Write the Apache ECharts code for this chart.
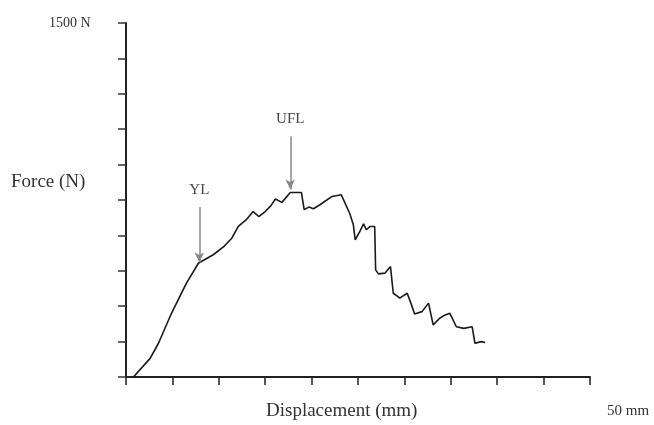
<!DOCTYPE html>
<html>
<head>
<meta charset="utf-8">
<script src="https://cdn.jsdelivr.net/npm/echarts@6/dist/echarts.min.js"></script>
<style>
  html, body { margin: 0; padding: 0; background: #fff; }
  #chart { width: 654px; height: 425px; }
</style>
</head>
<body>
<div id="chart"></div>
<script>
// displacement (mm) and force (N)
var displacement = [0.8, 2.6, 3.5, 4.9, 6.5, 7.8, 9.4, 10.6, 11.4, 12.1, 13.0, 13.7, 14.3, 15.0, 15.6, 16.1, 16.8,
  17.7, 18.9, 19.2, 19.7, 20.2, 20.9, 22.2, 23.2, 24.1, 24.5, 24.7, 25.2, 25.6, 25.9, 26.3, 26.8,
  26.9, 27.2, 27.9, 28.5, 28.8, 29.2, 29.5, 30.3, 30.7, 31.1, 31.9, 32.6, 33.1, 33.8, 34.4,
  34.9, 35.6, 36.4, 37.3, 37.6, 38.3, 38.7];
var force = [0, 79, 143, 270, 397, 482, 518, 555, 588, 638, 668, 701, 680, 701, 725, 754, 740,
  782, 782, 709, 720, 713, 730, 765, 772, 694, 645, 581, 617, 649, 624, 638, 638,
  454, 437, 440, 468, 355, 344, 334, 355, 313, 267, 277, 313, 221, 249, 263,
  270, 213, 206, 213, 143, 150, 146];

// annotation arrows: label, x (mm), top and tip force (N)
var arrowNames = ['YL', 'UFL'];
var arrowX = [7.9, 17.7];
var arrowTop = [720, 1020];
var arrowTip = [485, 795];

var chart = echarts.init(document.getElementById('chart'));
var serif = 'Liberation Serif';

var points = displacement.map(function (d, i) { return [d, force[i]]; });

var markLines = [];
var markLabels = [];
arrowNames.forEach(function (name, i) {
  markLines.push([
    { coord: [arrowX[i], arrowTop[i]], symbol: 'none' },
    { coord: [arrowX[i], arrowTip[i]], symbol: 'arrow' }
  ]);
  markLabels.push({ name: name, coord: [arrowX[i], arrowTop[i]] });
});

var option = {
  animation: false,
  grid: { left: 126, right: 64, top: 23, bottom: 48 },
  xAxis: {
    type: 'value', min: 0, max: 50, interval: 5,
    axisLine: { lineStyle: { color: '#222', width: 2 } },
    axisTick: { inside: false, length: 8, lineStyle: { color: '#222', width: 1.5 } },
    axisLabel: { show: false },
    splitLine: { show: false }
  },
  yAxis: {
    type: 'value', min: 0, max: 1500, interval: 150,
    axisLine: { show: true, lineStyle: { color: '#222', width: 2 } },
    axisTick: { show: true, inside: false, length: 8, lineStyle: { color: '#333', width: 1.5 } },
    axisLabel: { show: false },
    splitLine: { show: false }
  },
  series: [{
    type: 'line',
    data: points,
    showSymbol: false,
    lineStyle: { color: '#1a1a1a', width: 1.6 },
    markLine: {
      silent: true,
      symbolSize: [7, 10],
      label: { show: false },
      lineStyle: { color: '#888', width: 1.5, type: 'solid' },
      data: markLines
    },
    markPoint: {
      silent: true,
      symbol: 'circle',
      symbolSize: 1,
      itemStyle: { color: 'rgba(0,0,0,0)' },
      label: {
        show: true, position: 'top', distance: 9,
        fontFamily: serif, fontSize: 15, color: '#444',
        formatter: function (p) { return p.name; }
      },
      data: markLabels
    }
  }],
  graphic: [
    { type: 'text', left: 49, top: 16, style: { text: '1500 N', font: '14px ' + serif, fill: '#333' } },
    { type: 'text', left: 11, top: 173, style: { text: 'Force (N)', font: '19px ' + serif, fill: '#333' } },
    { type: 'text', left: 266, top: 402, style: { text: 'Displacement (mm)', font: '19px ' + serif, fill: '#333' } },
    { type: 'text', left: 607, top: 404, style: { text: '50 mm', font: '15px ' + serif, fill: '#333' } }
  ]
};

chart.setOption(option);
</script>
</body>
</html>
